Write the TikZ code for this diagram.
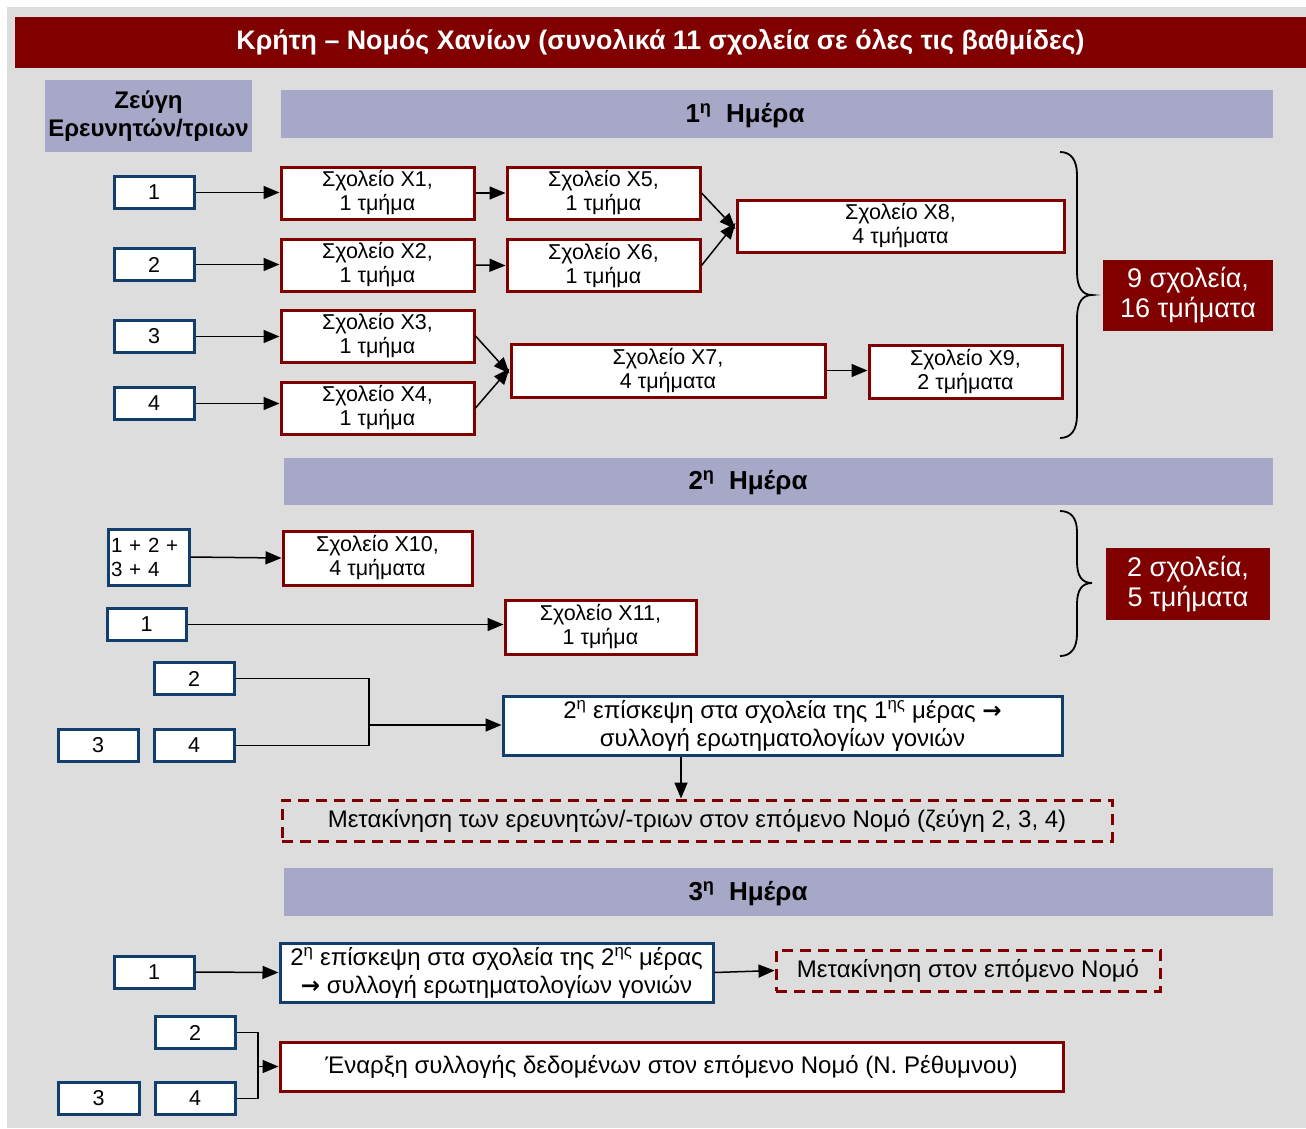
\documentclass[tikz,border=0pt]{standalone}
\usepackage{fontspec}
\setmainfont{Liberation Sans}
\newfontfamily\djv{DejaVu Sans}
\usetikzlibrary{arrows.meta}
\definecolor{bg}{HTML}{DDDDDD}
\definecolor{dred}{HTML}{800000}
\definecolor{lav}{HTML}{A7A7C7}
\definecolor{navy}{HTML}{123E6E}
\newcommand{\rarr}{{\djv\bfseries\fontsize{23}{28}\selectfont →}}
\begin{document}
\begin{tikzpicture}[x=1pt,y=-1pt,
  fnt/.style={font=\fontsize{21.5}{24}\selectfont},
  bigfnt/.style={font=\fontsize{24}{28}\selectfont},
  redbox/.style={draw=dred, line width=3pt, fill=white, inner sep=0pt, align=center, fnt},
  bluebox/.style={draw=navy, line width=3pt, fill=white, inner sep=0pt, align=center, fnt},
  pairbox/.style={bluebox, minimum width=80pt, minimum height=32pt},
  schbox/.style={redbox, minimum width=193pt, minimum height=52pt},
  dashbox/.style={draw=dred, line width=3pt, dash pattern=on 11pt off 7pt, inner sep=0pt, align=center, bigfnt},
  sumbox/.style={fill=dred, text=white, inner sep=0pt, align=center, font=\fontsize{27}{30}\selectfont},
  daybar/.style={fill=lav, inner sep=0pt},
  daytxt/.style={font=\fontsize{26}{30}\bfseries\selectfont},
  arr/.style={line width=1.5pt, -{Triangle[length=16pt,width=13pt]}},
  ln/.style={line width=1.5pt},
  brace/.style={line width=1.8pt}
]
\useasboundingbox (0,0) rectangle (1306,1128);
\fill[bg] (7,7) rectangle (1306,1128);

% title
\node[fill=dred, text=white, minimum width=1291pt, minimum height=51pt, inner sep=0pt,
  font=\fontsize{26.8}{30}\bfseries\selectfont] (title) at (660.5,42.5)
  {Κρήτη – Νομός Χανίων (συνολικά 11 σχολεία σε όλες τις βαθμίδες)};
\node[fill=lav, minimum width=207pt, minimum height=72pt, inner sep=0pt, align=center,
  font=\fontsize{24}{28}\bfseries\selectfont] (zeug) at (148.5,116) {Ζεύγη\\Ερευνητών/τριων};

% day 1
\node[daybar, minimum width=992pt, minimum height=48pt] (d1) at (777,114) {};
\node[daytxt] (d1t) at (745,116) {1\textsuperscript{η}\ \ Ημέρα};

\node[pairbox] (p1a) at (154,192.5) {1};
\node[pairbox] (p2a) at (154,264.5) {2};
\node[pairbox] (p3a) at (154,336.5) {3};
\node[pairbox] (p4a) at (154,403.5) {4};

\node[schbox] (x1) at (377.5,193) {Σχολείο X1,\\1 τμήμα};
\node[schbox] (x2) at (377.5,265) {Σχολείο X2,\\1 τμήμα};
\node[schbox] (x3) at (377.5,336) {Σχολείο X3,\\1 τμήμα};
\node[schbox] (x4) at (377.5,408) {Σχολείο X4,\\1 τμήμα};
\node[schbox] (x5) at (603.5,193) {Σχολείο X5,\\1 τμήμα};
\node[schbox] (x6) at (603.5,265.5) {Σχολείο X6,\\1 τμήμα};
\node[schbox, minimum width=327pt] (x8) at (900.5,226) {Σχολείο X8,\\4 τμήματα};
\node[schbox, minimum width=314pt, minimum height=53pt] (x7) at (668,370.5) {Σχολείο X7,\\4 τμήματα};
\node[schbox, minimum height=53pt] (x9) at (965.5,371.5) {Σχολείο X9,\\2 τμήματα};

\draw[arr] (p1a.east) -- (p1a.east -| x1.west);
\draw[arr] (p2a.east) -- (p2a.east -| x2.west);
\draw[arr] (p3a.east) -- (p3a.east -| x3.west);
\draw[arr] (p4a.east) -- (p4a.east -| x4.west);
\draw[arr] (x1.east) -- (x5.west);
\draw[arr] (x2.east) -- (x6.west);
\draw[arr] (x5.east) -- ([yshift=-3pt]x8.west);
\draw[arr] (x6.east) -- ([yshift=3pt]x8.west);
\draw[arr] (x3.east) -- ([yshift=-3pt]x7.west);
\draw[arr] (x4.east) -- ([yshift=2pt]x7.west);
\draw[arr] (x7.east) -- (x7.east -| x9.west);

\node[sumbox, minimum width=170pt, minimum height=71pt] (s1) at (1188,295.5) {9 σχολεία,\\16 τμήματα};
\draw[brace] (1060,152) .. controls (1071,152) and (1077,160) .. (1077,175) -- (1077,272)
  .. controls (1077,287) and (1082,295) .. (1092,295)
  .. controls (1082,295) and (1077,303) .. (1077,318) -- (1077,415)
  .. controls (1077,430) and (1071,438) .. (1060,438);

% day 2
\node[daybar, minimum width=989pt, minimum height=47pt] (d2) at (778.5,481.5) {};
\node[daytxt] (d2t) at (748,483) {2\textsuperscript{η}\ \ Ημέρα};

\node[bluebox, minimum width=81pt, minimum height=56pt, align=left, text width=75pt, font=\fontsize{20.5}{24}\selectfont] (p1234) at (148.5,557) {1 + 2 +\\3 + 4};
\node[redbox, minimum width=189pt, minimum height=54pt] (x10) at (377.5,558) {Σχολείο X10,\\4 τμήματα};
\node[pairbox, minimum width=79pt] (p1b) at (146.5,624.5) {1};
\node[redbox, minimum width=191pt, minimum height=54pt] (x11) at (600.5,627) {Σχολείο X11,\\1 τμήμα};
\node[pairbox] (p2b) at (194,678.5) {2};
\node[pairbox] (p3b) at (98,745.5) {3};
\node[pairbox] (p4b) at (194,745.5) {4};
\node[bluebox, font=\fontsize{24}{28}\selectfont, minimum width=559pt, minimum height=59pt] (v1) at (782.5,725.5)
  {2\textsuperscript{η} επίσκεψη στα σχολεία της 1\textsuperscript{ης} μέρας \rarr\\συλλογή ερωτηματολογίων γονιών};
\node[dashbox, minimum width=830pt, minimum height=41pt] (m1) at (697,820.5)
  {Μετακίνηση των ερευνητών/-τριων στον επόμενο Νομό (ζεύγη 2, 3, 4)};

\draw[arr] (p1234.east) -- (x10.west);
\draw[arr] (p1b.east) -- (p1b.east -| x11.west);
\coordinate (j1) at (369,725);
\draw[ln] (p2b.east) -| (j1) |- (p4b.east);
\draw[arr] (j1) -- (j1 -| v1.west);
\draw[arr] ([xshift=-101.5pt]v1.south) -- ([xshift=-101.5pt]v1.south |- m1.north);

\node[sumbox, minimum width=164pt, minimum height=72pt] (s2) at (1188,584) {2 σχολεία,\\5 τμήματα};
\draw[brace] (1060,511) .. controls (1071,511) and (1077,518) .. (1077,532) -- (1077,562)
  .. controls (1077,576) and (1082,583) .. (1092,583)
  .. controls (1082,583) and (1077,590) .. (1077,604) -- (1077,634)
  .. controls (1077,648) and (1071,656) .. (1060,656);

% day 3
\node[daybar, minimum width=989pt, minimum height=48pt] (d3) at (778.5,892) {};
\node[daytxt] (d3t) at (748,894) {3\textsuperscript{η}\ \ Ημέρα};

\node[pairbox] (p1c) at (154,972) {1};
\node[bluebox, font=\fontsize{24}{28}\selectfont, minimum width=433pt, minimum height=59pt] (v2) at (496.5,972.5)
  {2\textsuperscript{η} επίσκεψη στα σχολεία της 2\textsuperscript{ης} μέρας\\\rarr\ συλλογή ερωτηματολογίων γονιών};
\node[dashbox, minimum width=384pt, minimum height=41pt] (m2) at (968,970.5) {Μετακίνηση στον επόμενο Νομό};
\node[pairbox] (p2c) at (195,1032.5) {2};
\node[pairbox, minimum width=81pt] (p3c) at (98.5,1098.5) {3};
\node[pairbox] (p4c) at (195,1098.5) {4};
\node[redbox, font=\fontsize{24}{28}\selectfont, minimum width=783pt, minimum height=49pt] (st) at (671.5,1067)
  {Έναρξη συλλογής δεδομένων στον επόμενο Νομό (Ν. Ρέθυμνου)};

\draw[arr] (p1c.east) -- (v2.west);
\draw[arr] (v2.east) -- (m2.west);
\coordinate (j2) at (258,1066.5);
\draw[ln] (p2c.east) -| (j2) |- (p4c.east);
\draw[arr] (j2) -- (j2 -| st.west);
\end{tikzpicture}
\end{document}
